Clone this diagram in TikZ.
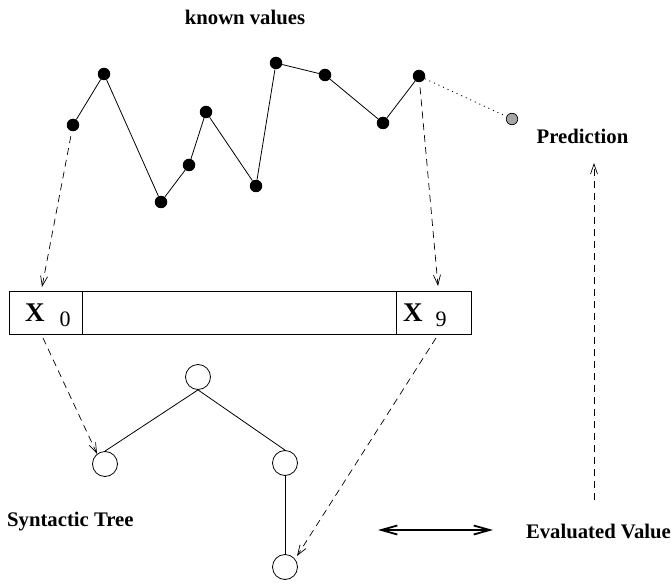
\documentclass[tikz,border=0pt]{standalone}
\usepackage{fontspec}
\setmainfont{Liberation Serif}
\usetikzlibrary{arrows.meta}
\begin{document}
\begin{tikzpicture}[x=1pt,y=-1pt,
  dot/.style={circle,fill=black,inner sep=0pt,minimum size=12.5pt},
  gdot/.style={circle,fill=black!35,draw=black,line width=0.7pt,inner sep=0pt,minimum size=11.5pt},
  tnode/.style={circle,draw,line width=0.8pt,inner sep=0pt,minimum size=25pt},
  cell/.style={rectangle,draw,line width=0.8pt,inner sep=0pt,minimum height=43pt},
  lbl/.style={inner sep=0pt,font=\fontsize{20.7}{24}\selectfont\bfseries},
  bigx/.style={inner sep=0pt,anchor=base west,font=\fontsize{27}{30}\selectfont\bfseries},
  subn/.style={inner sep=0pt,anchor=base west,font=\fontsize{22}{24}\selectfont},
  solidline/.style={line width=0.8pt},
  darr/.style={line width=0.7pt,dash pattern=on 7pt off 5pt,-{Straight Barb[length=10pt,width=7pt]}},
  dblarr/.style={line width=1.8pt,{Straight Barb[length=16pt,width=9pt]}-{Straight Barb[length=16pt,width=9pt]}}]
\useasboundingbox (0,0) rectangle (671,585);

% labels
\node[lbl] (known) at (245,17) {known values};
\node[lbl] (pred) at (582.5,136) {Prediction};
\node[lbl,anchor=west] (syn) at (7,522) {Syntactic Tree};
\node[lbl,anchor=east] (eval) at (671,531) {Evaluated Value};

% series of known values
\node[dot] (p1) at (73,125) {};
\node[dot] (p2) at (104,74) {};
\node[dot] (p3) at (161,202) {};
\node[dot] (p4) at (189,165) {};
\node[dot] (p5) at (206,112) {};
\node[dot] (p6) at (256,186) {};
\node[dot] (p7) at (276,63) {};
\node[dot] (p8) at (325,75) {};
\node[dot] (p9) at (383,123) {};
\node[dot] (p10) at (419,76) {};
\node[gdot] (gp) at (512,119) {};
\draw[solidline] (p1) -- (p2) -- (p3) -- (p4) -- (p5) -- (p6) -- (p7) -- (p8) -- (p9) -- (p10);
\draw[line width=0.9pt,dash pattern=on 1pt off 4pt] (p10) -- (gp);

% input vector
\node[cell,minimum width=73pt] (c0) at (45.5,312.5) {};
\node[cell,minimum width=314pt] (cm) at (239,312.5) {};
\node[cell,minimum width=75pt] (c9) at (433.5,312.5) {};
\node[bigx] (x0) at (25,321.7) {X};
\node[subn] (n0) at (59.5,326.5) {0};
\node[bigx] (x9) at (403,321.7) {X};
\node[subn] (n9) at (435.5,326.5) {9};

% syntactic tree
\node[tnode] (t1) at (198,377) {};
\node[tnode] (t2) at (105,464) {};
\node[tnode] (t3) at (285,463) {};
\node[tnode] (t4) at (285,567) {};
\draw[solidline] (t1.south) -- (t2.north);
\draw[solidline] (t1.south) -- (t3.north);
\draw[solidline] (t3.south) -- (t4.north);

% connector end points
\coordinate (a0) at (42,287);
\coordinate (a9) at (438,286);
\coordinate (s0) at (43,338);
\coordinate (s9) at (436,338);
\coordinate (e9) at (297,556);
\coordinate (v0) at (594,500);
\coordinate (v1) at (594,163);
\coordinate (da) at (378,530);
\coordinate (db) at (493,530);

\draw[darr,shorten <=5pt] (p1) -- (a0);
\draw[darr,shorten <=5pt] (p10) -- (a9);
\draw[darr] (s0) -- (t2.128);
\draw[darr] (s9) -- (e9);
\draw[darr] (v0) -- (v1);
\draw[dblarr] (da) -- (db);
\end{tikzpicture}
\end{document}
